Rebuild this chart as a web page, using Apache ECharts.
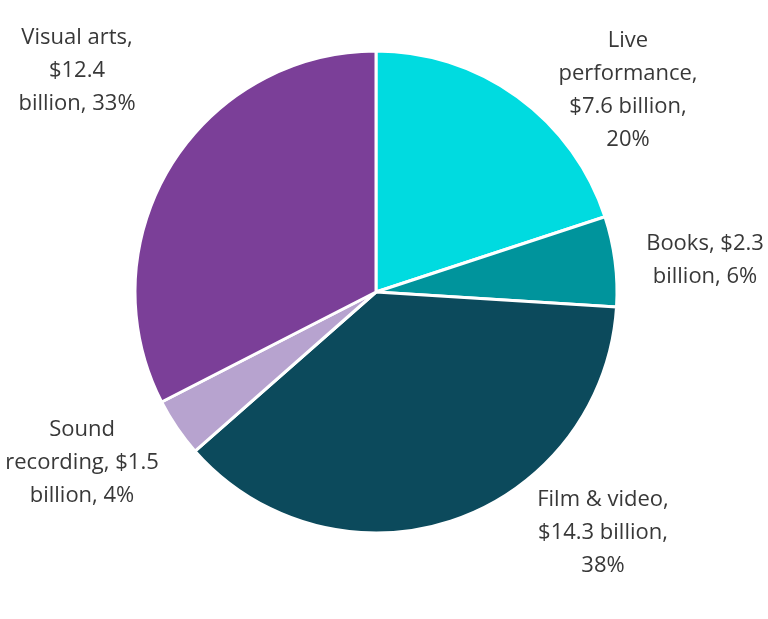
<!DOCTYPE html>
<html>
<head>
<meta charset="utf-8">
<script src="https://cdn.jsdelivr.net/npm/echarts@6/dist/echarts.min.js"></script>
<style>
  html, body { margin: 0; padding: 0; background: #fff; }
  #chart { width: 768px; height: 619px; }
</style>
</head>
<body>
<div id="chart"></div>
<script>
// values in $ billion, clockwise from 12 o'clock
const categories = ['Live performance', 'Books', 'Film & video', 'Sound recording', 'Visual arts']
const values = [7.6, 2.3, 14.3, 1.5, 12.4]
const colors = ['#00dbe0', '#00949c', '#0c4a5c', '#b7a3cf', '#7b3f98']
// how each label wraps, {v} = value, {p} = percent
const labelFormats = [
  'Live\nperformance,\n${v} billion,\n{p}%',
  'Books, ${v}\nbillion, {p}%',
  'Film & video,\n${v} billion,\n{p}%',
  'Sound\nrecording, ${v}\nbillion, {p}%',
  'Visual arts,\n${v}\nbillion, {p}%'
]
// label centre offsets from pie centre (px)
const labelOffsets = [[252, -202], [329, -32], [227, 241], [-294, 171], [-299, -221]]

const pieCenter = [376, 292]

const chart = echarts.init(document.getElementById('chart'))

chart.setOption({
  backgroundColor: '#fff',
  animation: false,
  series: [{
    type: 'pie',
    center: pieCenter,
    radius: 241,
    startAngle: 90,
    clockwise: true,
    data: categories.map((name, i) => ({ name, value: values[i], itemStyle: { color: colors[i] } })),
    itemStyle: { borderColor: '#fff', borderWidth: 3 },
    label: {
      show: true,
      position: 'outside',
      color: '#383838',
      fontFamily: 'Open Sans',
      fontSize: 22,
      lineHeight: 33,
      align: 'center',
      overflow: 'none',
      width: 220,
      formatter: (p) => labelFormats[p.dataIndex]
        .replace('{v}', values[p.dataIndex])
        .replace('{p}', Math.round(p.percent))
    },
    labelLine: { show: false },
    labelLayout: (p) => ({
      x: pieCenter[0] + labelOffsets[p.dataIndex][0],
      y: pieCenter[1] + labelOffsets[p.dataIndex][1],
      align: 'center',
      verticalAlign: 'middle'
    })
  }]
})
</script>
</body>
</html>
